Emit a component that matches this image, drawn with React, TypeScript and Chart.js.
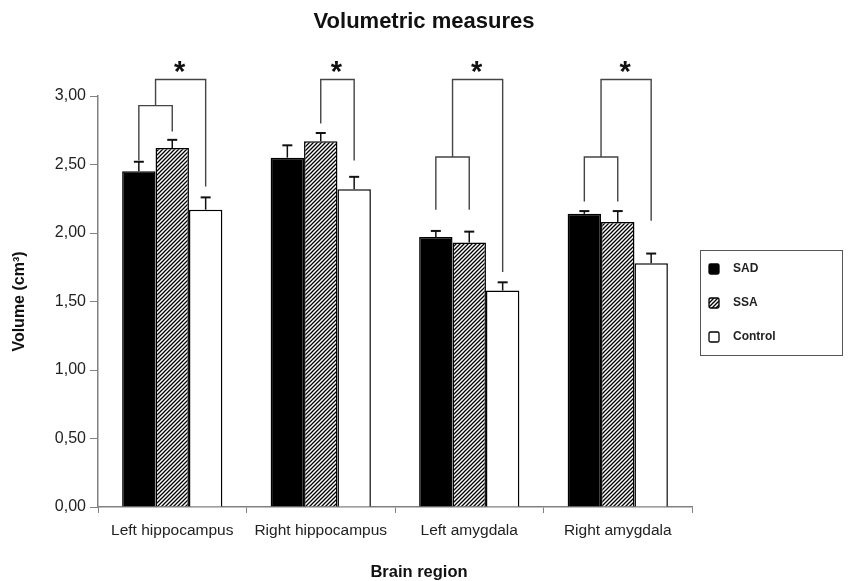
import React, { useEffect, useRef } from 'react';
import { Chart, registerables } from 'chart.js';
Chart.register(...registerables);

const categories = ['Left hippocampus', 'Right hippocampus', 'Left amygdala', 'Right amygdala'];
const seriesNames = ['SAD', 'SSA', 'Control'];
const sadValues = [2.45, 2.55, 1.97, 2.14];
const ssaValues = [2.62, 2.67, 1.93, 2.08];
const controlValues = [2.17, 2.32, 1.58, 1.78];
const sadErrors = [0.07, 0.09, 0.045, 0.02];
const ssaErrors = [0.06, 0.06, 0.08, 0.08];
const controlErrors = [0.09, 0.09, 0.06, 0.07];
const yTickLabels = ['0,00', '0,50', '1,00', '1,50', '2,00', '2,50', '3,00'];

const chartTitle = 'Volumetric measures';
const xAxisTitle = 'Brain region';
const yAxisTitle = 'Volume (cm³)';

// SAD–SSA grouping brackets
const groupCats = [0, 2, 3];
const groupLevels = [2.93, 2.555, 2.555];
const groupLeftEnds = [2.53, 2.17, 2.23];
const groupRightEnds = [2.74, 2.17, 2.23];

// Significance brackets (to Control)
const sigCats = [0, 1, 2, 3];
const sigLevels = [3.12, 3.12, 3.12, 3.12];
const sigFrom = ['group', 'SSA', 'group', 'group'];
const sigLeftEnds = [null, 2.8, null, null];
const sigRightEnds = [2.34, 2.53, 1.715, 2.09];
const sigLabels = ['*', '*', '*', '*'];

const FONT = 'Arial, "Liberation Sans", sans-serif';

function makeHatch() {
  const c = document.createElement('canvas');
  c.width = 4;
  c.height = 4;
  const g = c.getContext('2d')!;
  g.fillStyle = '#fff';
  g.fillRect(0, 0, 4, 4);
  g.strokeStyle = '#000';
  g.lineWidth = 1.3;
  g.beginPath();
  g.moveTo(0, 4);
  g.lineTo(4, 0);
  g.moveTo(-1, 1);
  g.lineTo(1, -1);
  g.moveTo(3, 5);
  g.lineTo(5, 3);
  g.stroke();
  return g.createPattern(c, 'repeat')!;
}

const annotationsPlugin = {
  id: 'annotations',
  afterDatasetsDraw(chart: any) {
    const ctx = chart.ctx as CanvasRenderingContext2D;
    const ys = chart.scales.y;
    const metas = [0, 1, 2].map((i) => chart.getDatasetMeta(i));
    const vals = [sadValues, ssaValues, controlValues];
    const errs = [sadErrors, ssaErrors, controlErrors];
    ctx.save();
    ctx.strokeStyle = '#111';
    metas.forEach((m: any, di: number) => {
      m.data.forEach((bar: any, ci: number) => {
        const top = ys.getPixelForValue(vals[di][ci]);
        const cap = ys.getPixelForValue(vals[di][ci] + errs[di][ci]);
        ctx.lineWidth = 1.5;
        ctx.beginPath();
        ctx.moveTo(bar.x, top);
        ctx.lineTo(bar.x, cap);
        ctx.stroke();
        ctx.lineWidth = 2;
        ctx.beginPath();
        ctx.moveTo(bar.x - 5, cap);
        ctx.lineTo(bar.x + 5, cap);
        ctx.stroke();
      });
    });
    ctx.strokeStyle = '#444';
    ctx.lineWidth = 1.4;
    const groupMid: Record<number, { x: number; y: number }> = {};
    groupCats.forEach((cat, i) => {
      const x0 = metas[0].data[cat].x;
      const x1 = metas[1].data[cat].x;
      const lv = ys.getPixelForValue(groupLevels[i]);
      ctx.beginPath();
      ctx.moveTo(x0, ys.getPixelForValue(groupLeftEnds[i]));
      ctx.lineTo(x0, lv);
      ctx.lineTo(x1, lv);
      ctx.lineTo(x1, ys.getPixelForValue(groupRightEnds[i]));
      ctx.stroke();
      groupMid[cat] = { x: (x0 + x1) / 2, y: lv };
    });
    sigCats.forEach((cat, i) => {
      let sx: number, sy: number;
      if (sigFrom[i] === 'group') {
        sx = groupMid[cat].x;
        sy = groupMid[cat].y;
      } else {
        sx = metas[1].data[cat].x;
        sy = ys.getPixelForValue(sigLeftEnds[i] as number);
      }
      const ex = metas[2].data[cat].x;
      const lv = ys.getPixelForValue(sigLevels[i]);
      ctx.beginPath();
      ctx.moveTo(sx, sy);
      ctx.lineTo(sx, lv);
      ctx.lineTo(ex, lv);
      ctx.lineTo(ex, ys.getPixelForValue(sigRightEnds[i]));
      ctx.stroke();
      ctx.fillStyle = '#111';
      ctx.font = `bold 29px ${FONT}`;
      ctx.textAlign = 'center';
      ctx.textBaseline = 'alphabetic';
      ctx.fillText(sigLabels[i], (sx + ex) / 2 - 1, lv + 1);
    });
    ctx.restore();
  },
};

const titlesPlugin = {
  id: 'pageTitles',
  afterDraw(chart: any) {
    const ctx = chart.ctx as CanvasRenderingContext2D;
    const cx = chart.width / 2;
    ctx.save();
    ctx.fillStyle = '#111';
    ctx.textAlign = 'center';
    ctx.textBaseline = 'middle';
    ctx.font = `bold 22px ${FONT}`;
    ctx.fillText(chartTitle, cx, 22);
    ctx.font = `bold 16.5px ${FONT}`;
    ctx.fillText(xAxisTitle, cx - 5, chart.height - 9);
    ctx.restore();
  },
};

const legendPlugin = {
  id: 'boxLegend',
  afterDraw(chart: any) {
    const ctx = chart.ctx as CanvasRenderingContext2D;
    const ca = chart.chartArea;
    const left = ca.right + 8;
    const right = chart.width - 6;
    const cy = (ca.top + ca.bottom) / 2;
    const top = Math.round(cy - 52);
    const bottom = Math.round(cy + 53);
    ctx.save();
    ctx.strokeStyle = '#555';
    ctx.lineWidth = 1;
    ctx.strokeRect(left + 0.5, top + 0.5, right - left, bottom - top);
    seriesNames.forEach((name, i) => {
      const yy = top + 19 + i * 34;
      const sx = left + 9;
      const ds = chart.data.datasets[i];
      ctx.fillStyle = ds.backgroundColor;
      ctx.strokeStyle = '#000';
      ctx.lineWidth = 1.3;
      ctx.beginPath();
      (ctx as any).roundRect(sx, yy - 5, 10, 10, 1.5);
      ctx.fill();
      ctx.stroke();
      ctx.fillStyle = '#222';
      ctx.font = `bold 12px ${FONT}`;
      ctx.textAlign = 'left';
      ctx.textBaseline = 'middle';
      ctx.fillText(name, left + 33, yy);
    });
    ctx.restore();
  },
};

export default function App() {
  const ref = useRef<HTMLCanvasElement>(null);
  useEffect(() => {
    const hatch = makeHatch();
    const chart = new Chart(ref.current!, {
      type: 'bar',
      data: {
        labels: categories,
        datasets: [
          { label: seriesNames[0], data: sadValues, backgroundColor: '#000', borderColor: '#000', borderWidth: 1.5 },
          { label: seriesNames[1], data: ssaValues, backgroundColor: hatch as any, borderColor: '#000', borderWidth: 1.5 },
          { label: seriesNames[2], data: controlValues, backgroundColor: '#fff', borderColor: '#000', borderWidth: 1.5 },
        ],
      },
      options: {
        responsive: false,
        animation: false,
        layout: { padding: { left: 6, right: 156, top: 96, bottom: 42 } },
        datasets: { bar: { categoryPercentage: 0.675, barPercentage: 1.0 } },
        plugins: {
          legend: { display: false },
          tooltip: { enabled: false },
          title: { display: false },
        },
        scales: {
          x: {
            grid: { display: true, drawOnChartArea: false, drawTicks: true, tickLength: 6, offset: true, color: '#808080' },
            border: { display: true, color: '#808080', width: 1.5 },
            ticks: { color: '#222', font: { family: FONT, size: 15.5 }, padding: 8, maxRotation: 0 },
            afterFit: (s: any) => { s.height = 32; },
          },
          y: {
            min: 0,
            max: 3,
            grid: { display: true, drawOnChartArea: false, drawTicks: true, tickLength: 8, color: '#808080' },
            border: { display: true, color: '#808080', width: 1.5 },
            ticks: {
              stepSize: 0.5,
              color: '#222',
              font: { family: FONT, size: 16 },
              padding: 4,
              callback: (_v: any, i: number) => yTickLabels[i],
            },
            title: {
              display: true,
              text: yAxisTitle,
              color: '#111',
              font: { family: FONT, size: 16, weight: 'bold' },
              padding: { top: 4, bottom: 4 },
            },
            afterFit: (s: any) => { s.width = 92; },
          },
        },
      },
      plugins: [annotationsPlugin, legendPlugin, titlesPlugin],
    });
    return () => chart.destroy();
  }, []);
  return (
    <div style={{ position: 'absolute', left: 0, top: 0, width: 848, height: 581, background: '#fff' }}>
      <canvas ref={ref} width={848} height={581} style={{ display: 'block' }} />
    </div>
  );
}
